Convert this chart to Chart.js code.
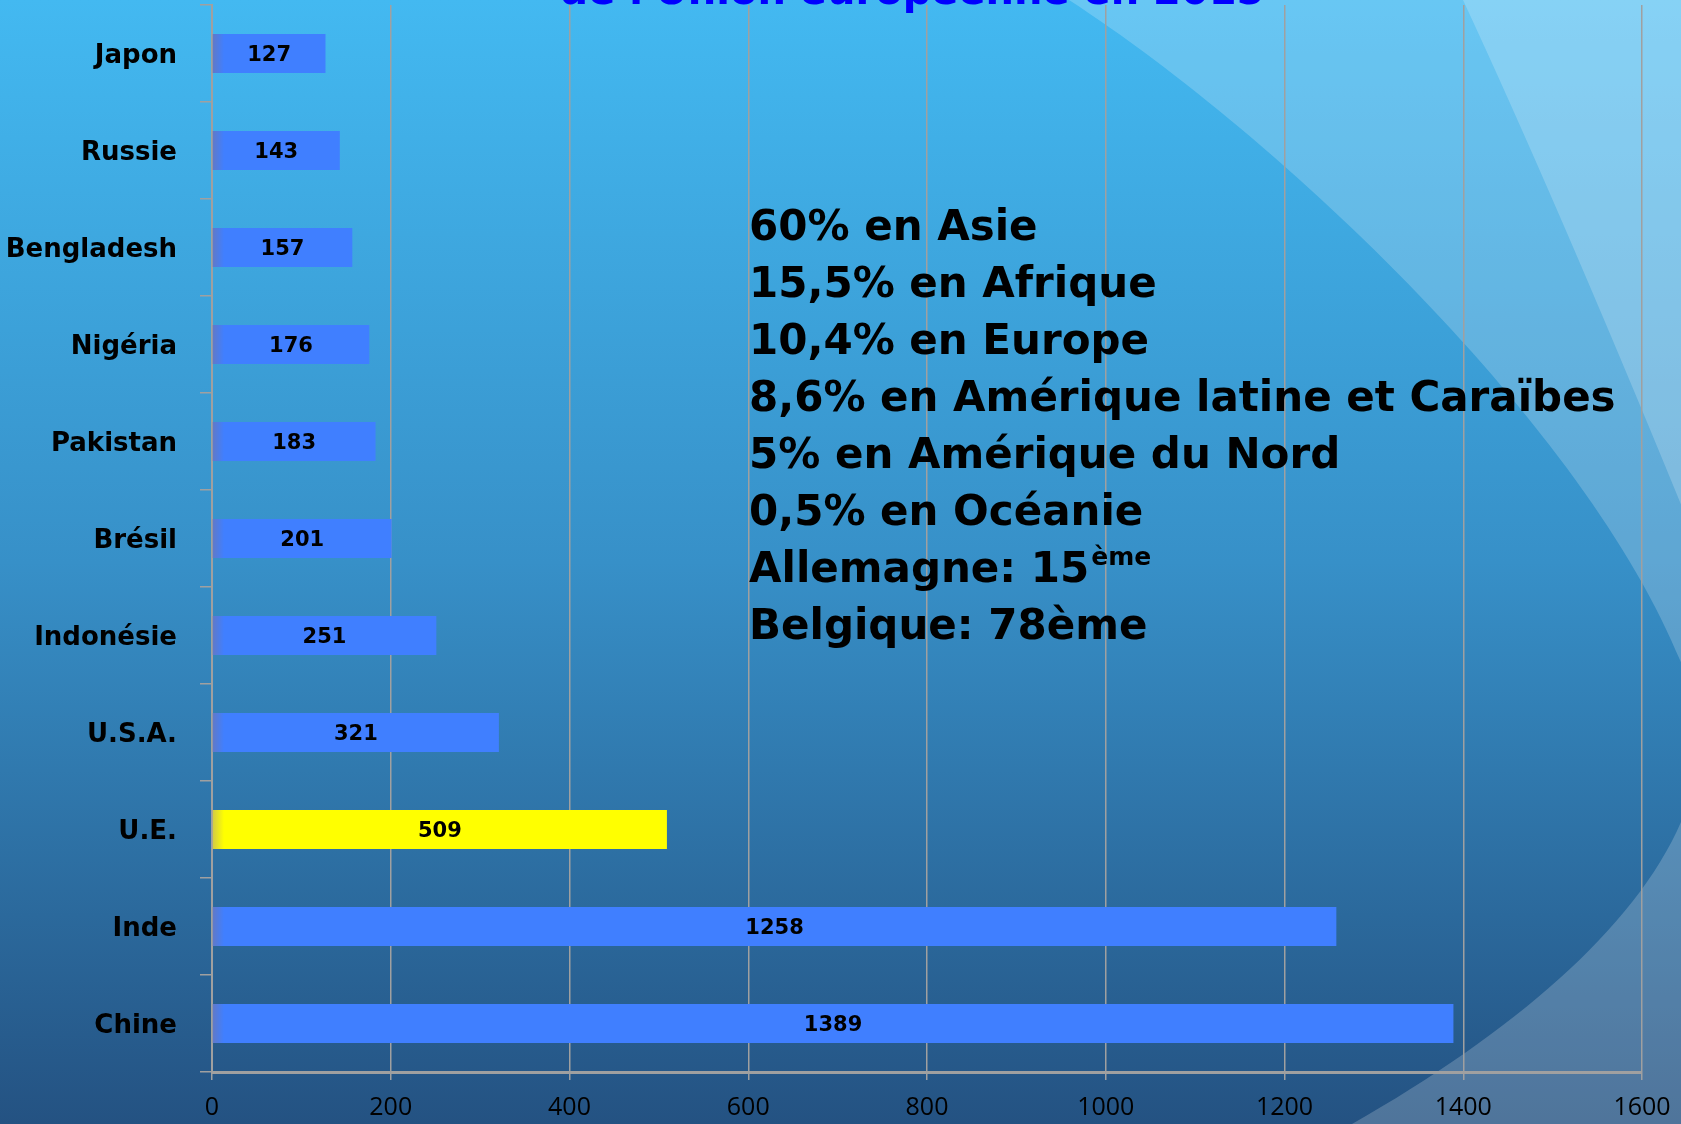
<!DOCTYPE html>
<html>
<head>
<meta charset="utf-8">
<script src="https://cdn.jsdelivr.net/npm/chart.js@4/dist/chart.umd.min.js"></script>
<style>
  html, body { margin: 0; padding: 0; background: #245282; }
  #chart { display: block; }
</style>
</head>
<body>
<canvas id="chart" width="1681" height="1124"></canvas>
<script>
const countries = ["Japon", "Russie", "Bengladesh", "Nigéria", "Pakistan", "Brésil", "Indonésie", "U.S.A.", "U.E.", "Inde", "Chine"];
const population = [127, 143, 157, 176, 183, 201, 251, 321, 509, 1258, 1389];
const barColors = ["#407fff", "#407fff", "#407fff", "#407fff", "#407fff", "#407fff", "#407fff", "#407fff", "#ffff00", "#407fff", "#407fff"];
const edgeColors = ["#6279c4", "#6279c4", "#6279c4", "#6279c4", "#6279c4", "#6279c4", "#6279c4", "#6279c4", "#cfc84a", "#6279c4", "#6279c4"];
const xTicks = [0, 200, 400, 600, 800, 1000, 1200, 1400, 1600];

const title = "de l'Union européenne en 2015";
const notes = [
  "60% en Asie",
  "15,5% en Afrique",
  "10,4% en Europe",
  "8,6% en Amérique latine et Caraïbes",
  "5% en Amérique du Nord",
  "0,5% en Océanie",
  "Allemagne: 15",
  "Belgique: 78ème"
];

const FONT = '"DejaVu Sans", Verdana, sans-serif';

// slide background: vertical gradient + lighter curved bands on the right
const background = {
  id: "background",
  beforeDraw(chart) {
    const ctx = chart.ctx;
    const w = chart.width, h = chart.height;
    ctx.save();
    const g = ctx.createLinearGradient(0, 0, 0, h);
    g.addColorStop(0, "#43b9f1");
    g.addColorStop(0.5, "#3790c8");
    g.addColorStop(1, "#245282");
    ctx.fillStyle = g;
    ctx.fillRect(0, 0, w, h);

    ctx.fillStyle = "rgba(255,255,255,0.2)";
    ctx.beginPath();
    ctx.moveTo(1069, 0);
    ctx.bezierCurveTo(1300, 150, 1640, 480, 1700, 720);
    ctx.bezierCurveTo(1710, 860, 1563, 1004, 1352, h);
    ctx.lineTo(w, h);
    ctx.lineTo(w, 0);
    ctx.closePath();
    ctx.fill();

    ctx.beginPath();
    ctx.moveTo(1463, 0);
    ctx.quadraticCurveTo(1570, 230, 1720, 600);
    ctx.lineTo(w, 0);
    ctx.closePath();
    ctx.fill();
    ctx.restore();
  }
};

// values written in the middle of each bar
const barValues = {
  id: "barValues",
  afterDatasetsDraw(chart) {
    const ctx = chart.ctx;
    const meta = chart.getDatasetMeta(0);
    ctx.save();
    ctx.font = "bold 21px " + FONT;
    ctx.fillStyle = "#000";
    ctx.textAlign = "center";
    ctx.textBaseline = "middle";
    meta.data.forEach((bar, i) => {
      ctx.fillText(population[i], (bar.base + bar.x) / 2, bar.y + 2);
    });
    ctx.restore();
  }
};

// title (cut at the top) and the text block
const texts = {
  id: "texts",
  afterDraw(chart) {
    const ctx = chart.ctx;
    ctx.save();
    ctx.fillStyle = "#0000ff";
    ctx.font = "bold 40px " + FONT;
    ctx.textAlign = "center";
    ctx.textBaseline = "alphabetic";
    ctx.fillText(title, 912, 4);

    ctx.fillStyle = "#000";
    ctx.textAlign = "left";
    ctx.font = "bold 42px " + FONT;
    notes.forEach((line, i) => {
      ctx.fillText(line, 749, 240 + i * 57);
    });
    // superscript after "Allemagne: 15"
    const wAll = ctx.measureText(notes[6]).width;
    ctx.font = "bold 25px " + FONT;
    ctx.fillText("ème", 749 + wAll + 2, 240 + 6 * 57 - 17);
    ctx.restore();
  }
};

function barFill(c) {
  const area = c.chart.chartArea;
  const i = c.dataIndex;
  if (!area) return barColors[i];
  const g = c.chart.ctx.createLinearGradient(area.left, 0, area.left + 12, 0);
  g.addColorStop(0, edgeColors[i]);
  g.addColorStop(1, barColors[i]);
  return g;
}

new Chart(document.getElementById("chart"), {
  type: "bar",
  data: {
    labels: countries,
    datasets: [{
      data: population,
      backgroundColor: barFill,
      borderWidth: 0,
      categoryPercentage: 0.8,
      barPercentage: 0.5
    }]
  },
  options: {
    indexAxis: "y",
    responsive: false,
    devicePixelRatio: 1,
    animation: false,
    layout: { padding: { left: 0, right: 39, top: 5, bottom: 0 } },
    plugins: {
      legend: { display: false },
      tooltip: { enabled: false }
    },
    scales: {
      x: {
        min: 0,
        max: 1600,
        afterBuildTicks(scale) {
          scale.ticks = xTicks.map(v => ({ value: v }));
        },
        afterFit(scale) {
          scale.height = 52;
          scale.paddingLeft = 0;
          scale.paddingRight = 0;
        },
        grid: { color: "#a0a0a0", lineWidth: 1.5, tickLength: 8 },
        border: { color: "#a0a0a0", width: 3 },
        ticks: {
          color: "#000",
          padding: 13,
          font: { family: '"Open Sans", sans-serif', size: 25 },
          callback: v => String(v)
        }
      },
      y: {
        afterFit(scale) {
          scale.width = 212;
          scale.paddingTop = 0;
          scale.paddingBottom = 0;
        },
        grid: { drawOnChartArea: false, offset: true, color: "#a0a0a0", lineWidth: 1.5, tickLength: 12 },
        border: { color: "#a0a0a0", width: 2 },
        ticks: {
          color: "#000",
          padding: 23,
          labelOffset: 3,
          font: { family: FONT, size: 26, weight: "bold" }
        }
      }
    }
  },
  plugins: [background, barValues, texts]
});
</script>
</body>
</html>
